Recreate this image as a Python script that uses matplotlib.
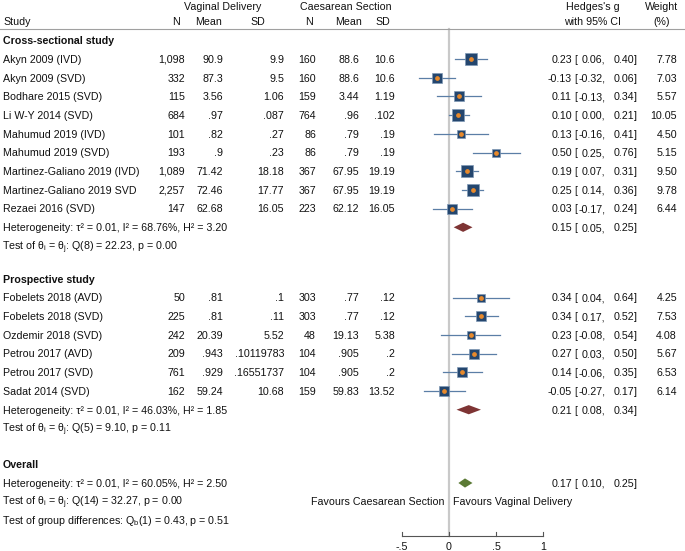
import matplotlib
matplotlib.use("Agg")
import matplotlib.pyplot as plt
from matplotlib.transforms import blended_transform_factory
import numpy as np

plt.rcParams['font.family'] = ['Liberation Sans', 'DejaVu Sans']
plt.rcParams['mathtext.fontset'] = 'custom'
plt.rcParams['mathtext.rm'] = 'Liberation Sans'
plt.rcParams['mathtext.it'] = 'Liberation Sans'
plt.rcParams['mathtext.default'] = 'regular'

# ---------------- data ----------------
studies1 = ["Akyn 2009 (IVD)", "Akyn 2009 (SVD)", "Bodhare 2015 (SVD)", "Li W-Y 2014 (SVD)",
            "Mahumud 2019 (IVD)", "Mahumud 2019 (SVD)", "Martinez-Galiano 2019 (IVD)",
            "Martinez-Galiano 2019 SVD", "Rezaei 2016 (SVD)"]
vd_n1 = ["1,098", "332", "115", "684", "101", "193", "1,089", "2,257", "147"]
vd_mean1 = ["90.9", "87.3", "3.56", ".97", ".82", ".9", "71.42", "72.46", "62.68"]
vd_sd1 = ["9.9", "9.5", "1.06", ".087", ".27", ".23", "18.18", "17.77", "16.05"]
cs_n1 = ["160", "160", "159", "764", "86", "86", "367", "367", "223"]
cs_mean1 = ["88.6", "88.6", "3.44", ".96", ".79", ".79", "67.95", "67.95", "62.12"]
cs_sd1 = ["10.6", "10.6", "1.19", ".102", ".19", ".19", "19.19", "19.19", "16.05"]
g1 = [0.23, -0.13, 0.11, 0.10, 0.13, 0.50, 0.19, 0.25, 0.03]
lo1 = [0.06, -0.32, -0.13, 0.00, -0.16, 0.25, 0.07, 0.14, -0.17]
hi1 = [0.40, 0.06, 0.34, 0.21, 0.41, 0.76, 0.31, 0.36, 0.24]
w1 = [7.78, 7.03, 5.57, 10.05, 4.50, 5.15, 9.50, 9.78, 6.44]

studies2 = ["Fobelets 2018 (AVD)", "Fobelets 2018 (SVD)", "Ozdemir 2018 (SVD)",
            "Petrou 2017 (AVD)", "Petrou 2017 (SVD)", "Sadat 2014 (SVD)"]
vd_n2 = ["50", "225", "242", "209", "761", "162"]
vd_mean2 = [".81", ".81", "20.39", ".943", ".929", "59.24"]
vd_sd2 = [".1", ".11", "5.52", ".10119783", ".16551737", "10.68"]
cs_n2 = ["303", "303", "48", "104", "104", "159"]
cs_mean2 = [".77", ".77", "19.13", ".905", ".905", "59.83"]
cs_sd2 = [".12", ".12", "5.38", ".2", ".2", "13.52"]
g2 = [0.34, 0.34, 0.23, 0.27, 0.14, -0.05]
lo2 = [0.04, 0.17, -0.08, 0.03, -0.06, -0.27]
hi2 = [0.64, 0.52, 0.54, 0.50, 0.35, 0.17]
w2 = [4.25, 7.53, 4.08, 5.67, 6.53, 6.14]

sub_g = [0.15, 0.21]
sub_lo = [0.05, 0.08]
sub_hi = [0.25, 0.34]
overall = (0.17, 0.10, 0.25)

group_names = ["Cross-sectional study", "Prospective study"]
het_texts = [r"Heterogeneity: τ² = 0.01, I² = 68.76%, H² = 3.20",
             r"Heterogeneity: τ² = 0.01, I² = 46.03%, H² = 1.85"]
test_texts = [r"Test of $\theta_i$ = $\theta_j$: Q(8) = 22.23, p = 0.00",
              r"Test of $\theta_i$ = $\theta_j$: Q(5) = 9.10, p = 0.11"]
overall_het = r"Heterogeneity: τ² = 0.01, I² = 60.05%, H² = 2.50"
overall_test = r"Test of $\theta_i$ = $\theta_j$: Q(14) = 32.27, p = 0.00"
group_test = r"Test of group differences: $Q_b$(1) = 0.43, p = 0.51"
xticks = [-0.5, 0, 0.5, 1]
xticklabels = ["-.5", "0", ".5", "1"]

# ---------------- layout ----------------
W, H = 685, 551
fig = plt.figure(figsize=(W / 100, H / 100), dpi=100)
ax = fig.add_axes([0, 0, 1, 1])
x0px, unit = 449.0, 94.0
ax.set_xlim(-x0px / unit, (W - x0px) / unit)
ax.set_ylim(H, 0)
ax.axis('off')
tx = blended_transform_factory(ax.transAxes, ax.transData)

FS = 7.7
BASE = 3.8  # px from text centre to baseline
TXT = '#111111'
SQ = '#24466e'
CI = '#5b7ea6'
DOT = '#e8892b'
MAROON = '#7e3434'
GREEN = '#5b7a35'


def t(px, y, s, ha='left', bold=False):
    ax.text(px / W, y + BASE, s, transform=tx, ha=ha, va='baseline', fontsize=FS, color=TXT,
            fontweight='bold' if bold else 'normal')


def est_text(y, g, lo, hi):
    t(572, y, f"{g:.2f}", ha='right')
    t(574, y, "[")
    t(605.5, y, f"{lo:.2f},", ha='right')
    t(634, y, f"{hi:.2f}", ha='right')
    t(634, y, "]")


# headers
t(223, 6, "Vaginal Delivery", ha='center')
t(346, 6, "Caesarean Section", ha='center')
t(593, 6, "Hedges's g", ha='center')
t(662, 6, "Weight", ha='center')
t(3, 21, "Study")
t(176, 21, "N", ha='center')
t(209, 21, "Mean", ha='center')
t(258, 21, "SD", ha='center')
t(309, 21, "N", ha='center')
t(349, 21, "Mean", ha='center')
t(383, 21, "SD", ha='center')
t(593, 21, "with 95% CI", ha='center')
t(662, 21, "(%)", ha='center')

ax.plot([0, 1], [28.5, 28.5], transform=tx, color='#a0a0a0', lw=0.8)
ax.plot([0, 0], [28.5, 535.7], color='#c9c9c9', lw=1.6, zorder=1)

groups = [
    (studies1, vd_n1, vd_mean1, vd_sd1, cs_n1, cs_mean1, cs_sd1, g1, lo1, hi1, w1, 40.5, 59.0),
    (studies2, vd_n2, vd_mean2, vd_sd2, cs_n2, cs_mean2, cs_sd2, g2, lo2, hi2, w2, 279.0, 297.5),
]
step = 18.7
for gi, (st, vn, vm, vs, cn, cm, cs, g, lo, hi, w, yh, y0) in enumerate(groups):
    t(3, yh, group_names[gi], bold=True)
    for i in range(len(st)):
        y = y0 + i * step
        t(3, y, st[i])
        t(185, y, vn[i], ha='right')
        t(223, y, vm[i], ha='right')
        t(284, y, vs[i], ha='right')
        t(316, y, cn[i], ha='right')
        t(359, y, cm[i], ha='right')
        t(395, y, cs[i], ha='right')
        ax.plot([lo[i], hi[i]], [y, y], color=CI, lw=0.9, zorder=2)
        ax.plot(g[i], y, marker='s', ms=2.85 * np.sqrt(w[i]), mfc=SQ, mec='#7f98b5',
                mew=0.5, zorder=3)
        ax.plot(g[i], y, marker='o', ms=2.4, mfc=DOT, mec=DOT, zorder=4)
        est_text(y, g[i], lo[i], hi[i])
        t(677, y, f"{w[i]:.2f}", ha='right')
    yd = y0 + len(st) * step
    dh = 4.6
    ax.fill([sub_lo[gi], sub_g[gi], sub_hi[gi], sub_g[gi]], [yd, yd - dh, yd, yd + dh],
            color=MAROON, zorder=3, lw=0)
    t(3, yd, het_texts[gi])
    est_text(yd, sub_g[gi], sub_lo[gi], sub_hi[gi])
    t(1.5, yd + step, test_texts[gi])

# overall
t(3, 464, "Overall", bold=True)
yo = 483
ax.fill([overall[1], overall[0], overall[2], overall[0]], [yo, yo - 4.6, yo, yo + 4.6],
        color=GREEN, zorder=3, lw=0)
t(3, yo, overall_het)
est_text(yo, *overall)
t(1.5, 501.5, overall_test)
t(444, 501.5, "Favours Caesarean Section", ha='right')
t(453, 501.5, "Favours Vaginal Delivery", ha='left')
t(1.5, 520.5, group_test)

# axis
ya = 535.7
ax.plot([xticks[0], xticks[-1]], [ya, ya], color='#555555', lw=0.8)
for xv, lab in zip(xticks, xticklabels):
    ax.plot([xv, xv], [ya, ya - 3.5], color='#555555', lw=0.8)
    ax.text(xv, 546.5 + BASE, lab, ha='center', va='baseline', fontsize=FS, color=TXT)

fig.savefig("out.png", dpi=100)
